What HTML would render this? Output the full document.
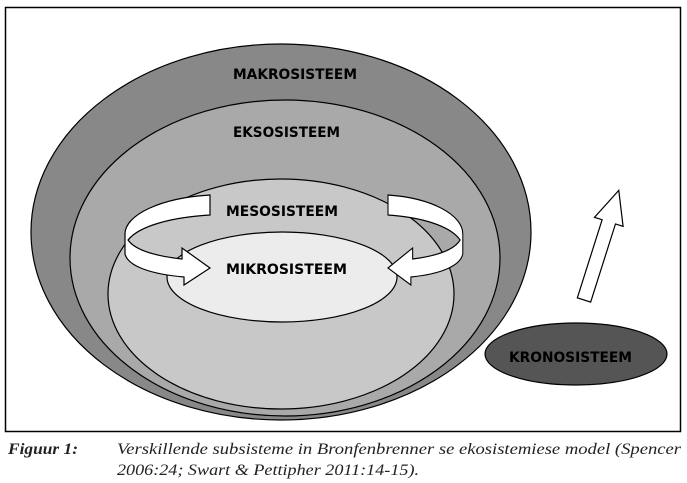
<!DOCTYPE html>
<html><head><meta charset="utf-8"><style>
body{margin:0;background:#fff;width:687px;height:483px;overflow:hidden}
svg{display:block}
.l{font-family:"DejaVu Sans Condensed","DejaVu Sans",sans-serif;font-weight:bold;font-size:14px;fill:#000}
.c{font-family:"Liberation Serif",serif;font-style:italic;font-size:16px;fill:#222}
</style></head><body>
<svg width="687" height="483" viewBox="0 0 687 483">
<rect x="5.5" y="7.5" width="675" height="424" fill="#fff" stroke="#000" stroke-width="1.5"/>
<ellipse cx="281" cy="232" rx="250" ry="188" fill="#888" stroke="#000" stroke-width="1.2"/>
<ellipse cx="285" cy="258" rx="215" ry="158" fill="#a9a9a9" stroke="#000" stroke-width="1.2"/>
<ellipse cx="281" cy="294" rx="173" ry="115" fill="#c8c8c8" stroke="#000" stroke-width="1.2"/>
<ellipse cx="282" cy="277" rx="115" ry="45" fill="#ececec" stroke="#000" stroke-width="1.2"/>
<g fill="#fff" stroke="#000" stroke-width="1.2">
<path d="M210,195 C160,198 125,215 125,234 L125,254 C128,266 150,274 184,277 L184,285 L210,268 L182,248 L182,259 C155,256 135,250 128,240 C140,225 175,217 210,215 Z"/>
</g>
<g transform="translate(388,0) scale(-0.88,1) translate(-210,0)" fill="#fff" stroke="#000" stroke-width="1.2">
<path d="M210,195 C160,198 125,215 125,234 L125,254 C128,266 150,274 184,277 L184,285 L210,268 L182,248 L182,259 C155,256 135,250 128,240 C140,225 175,217 210,215 Z"/>
</g>
<ellipse cx="576" cy="354" rx="91" ry="31" fill="#555" stroke="#000" stroke-width="1.2"/>
<g transform="translate(584,300) rotate(17.6)">
<path d="M-7,0 L-7,-82 L-15,-82 L0,-115 L15,-82 L7,-82 L7,0 Z" fill="#fff" stroke="#000" stroke-width="1.2"/>
</g>
<text class="l" x="233" y="79" textLength="124" lengthAdjust="spacingAndGlyphs">MAKROSISTEEM</text>
<text class="l" x="233" y="137" textLength="107" lengthAdjust="spacingAndGlyphs">EKSOSISTEEM</text>
<text class="l" x="226" y="216" textLength="112" lengthAdjust="spacingAndGlyphs">MESOSISTEEM</text>
<text class="l" x="226" y="274" textLength="121" lengthAdjust="spacingAndGlyphs">MIKROSISTEEM</text>
<text class="l" x="509" y="362" textLength="123" lengthAdjust="spacingAndGlyphs">KRONOSISTEEM</text>
<text class="c" x="8" y="454" style="font-weight:bold" textLength="70" lengthAdjust="spacingAndGlyphs">Figuur 1:</text>
<text class="c" x="117" y="454" textLength="564" lengthAdjust="spacingAndGlyphs">Verskillende subsisteme in Bronfenbrenner se ekosistemiese model (Spencer</text>
<text class="c" x="117" y="475" textLength="302" lengthAdjust="spacingAndGlyphs">2006:24; Swart &amp; Pettipher 2011:14-15).</text>
</svg>
</body></html>
